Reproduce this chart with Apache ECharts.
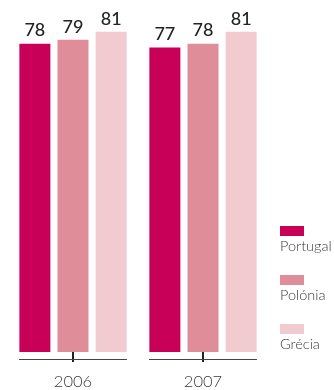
<!DOCTYPE html>
<html>
<head>
<meta charset="utf-8">
<script src="https://cdn.jsdelivr.net/npm/echarts@6/dist/echarts.min.js"></script>
<style>
  html, body { margin: 0; padding: 0; background: #fff; }
  #chart { width: 334px; height: 390px; }
</style>
</head>
<body>
<div id="chart"></div>
<script>
const years = ['2006', '2007'];
const countries = ['Portugal', 'Polónia', 'Grécia'];
const portugal = [78, 77];
const polonia = [79, 78];
const grecia = [81, 81];
const colors = ['#c90058', '#df8d99', '#f2cbd1'];

const seriesValues = [portugal, polonia, grecia];
const FONT = 'Lato, "Open Sans", sans-serif';

const barSeries = countries.map((name, i) => ({
  name: name,
  type: 'bar',
  data: seriesValues[i],
  barWidth: 31,
  barGap: '23%',
  itemStyle: { color: colors[i] },
  label: {
    show: true,
    position: 'top',
    distance: 4,
    fontFamily: FONT,
    fontSize: 18,
    fontWeight: 500,
    color: '#222'
  }
}));

// Baseline segment drawn under each year group
const baseSeries = {
  type: 'custom',
  silent: true,
  data: years.map((y, i) => [i, 0]),
  renderItem: function (params, api) {
    const p = api.coord([api.value(0), 0]);
    const band = api.size([1, 0])[0];
    const half = band * 0.415;
    return {
      type: 'line',
      shape: { x1: p[0] - half, y1: p[1] + 7.5, x2: p[0] + half, y2: p[1] + 7.5 },
      style: { stroke: '#444', lineWidth: 1 }
    };
  }
};

// Legend: swatch above the country name
const legendGraphics = [];
countries.forEach((name, i) => {
  const top = 226 + i * 49;
  legendGraphics.push({
    type: 'rect', left: 280, top: top,
    shape: { width: 24, height: 10 },
    style: { fill: colors[i] }
  });
  legendGraphics.push({
    type: 'text', left: 280, top: top + 13,
    style: { text: name, font: '300 14.5px ' + FONT, fill: '#3a3a3a' }
  });
});

const chart = echarts.init(document.getElementById('chart'));
chart.setOption({
  animation: false,
  grid: { left: 8, right: 66, top: 16, bottom: 38 },
  xAxis: {
    type: 'category',
    data: years,
    offset: 7,
    axisLine: { show: false },
    axisTick: { show: true, alignWithLabel: true, length: 10, lineStyle: { color: '#222', width: 2 } },
    axisLabel: { margin: 14, fontFamily: FONT, fontSize: 16.5, fontWeight: 300, color: '#3a3a3a' }
  },
  yAxis: {
    type: 'value', min: 0, max: 85,
    show: false,
    splitLine: { show: false }
  },
  series: barSeries.concat([baseSeries]),
  graphic: legendGraphics
});
</script>
</body>
</html>
